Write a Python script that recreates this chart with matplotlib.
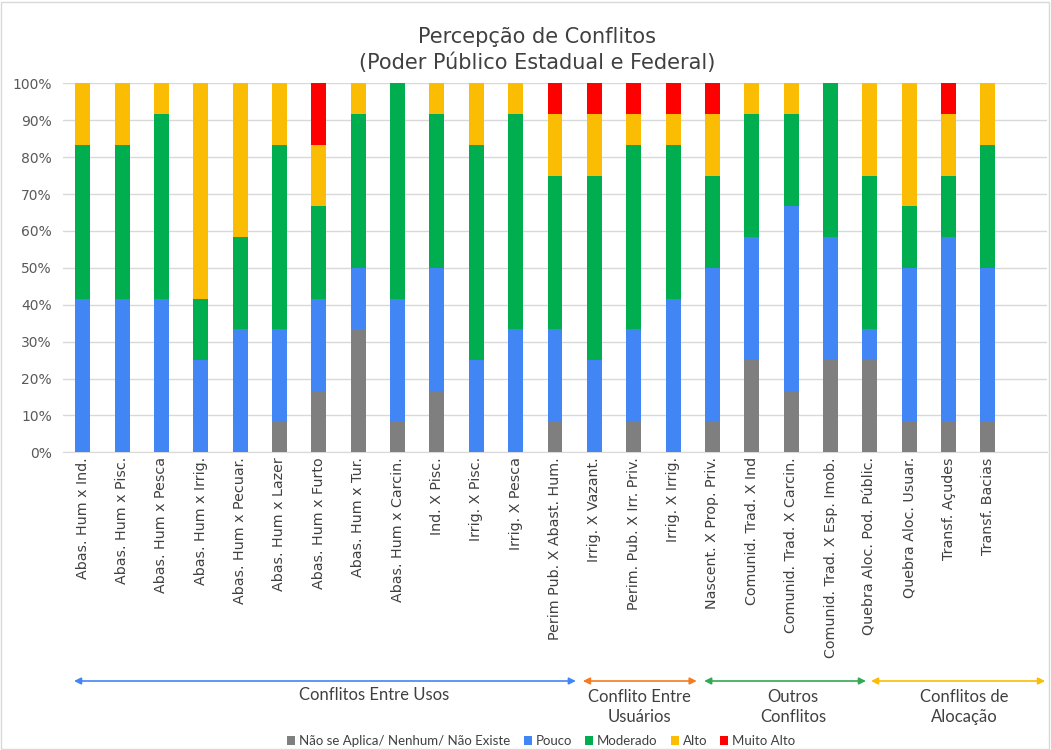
import matplotlib
matplotlib.use("Agg")
import matplotlib.pyplot as plt
import numpy as np
from matplotlib.patches import Patch, Rectangle
from matplotlib.ticker import PercentFormatter

categories = [
    "Abas. Hum x Ind.", "Abas. Hum x Pisc.", "Abas. Hum x Pesca", "Abas. Hum x Irrig.",
    "Abas. Hum x Pecuar.", "Abas. Hum x Lazer", "Abas. Hum x Furto", "Abas. Hum x Tur.",
    "Abas. Hum x Carcin.", "Ind. X Pisc.", "Irrig. X Pisc.", "Irrig. X Pesca",
    "Perim Pub. X Abast. Hum.", "Irrig. X Vazant.", "Perim. Pub. X Irr. Priv.", "Irrig. X Irrig.",
    "Nascent. X Prop. Priv.", "Comunid. Trad. X Ind", "Comunid. Trad. X Carcin.",
    "Comunid. Trad. X Esp. Imob.", "Quebra Aloc. Pod. Públic.", "Quebra Aloc. Usuar.",
    "Transf. Açudes", "Transf. Bacias",
]

# counts of answers (12 respondents per conflict)
nao_se_aplica = [0, 0, 0, 0, 0, 1, 2, 4, 1, 2, 0, 0, 1, 0, 1, 0, 1, 3, 2, 3, 3, 1, 1, 1]
pouco         = [5, 5, 5, 3, 4, 3, 3, 2, 4, 4, 3, 4, 3, 3, 3, 5, 5, 4, 6, 4, 1, 5, 6, 5]
moderado      = [5, 5, 6, 2, 3, 6, 3, 5, 7, 5, 7, 7, 5, 6, 6, 5, 3, 4, 3, 5, 5, 2, 2, 4]
alto          = [2, 2, 1, 7, 5, 2, 2, 1, 0, 1, 2, 1, 2, 2, 1, 1, 2, 1, 1, 0, 3, 4, 2, 2]
muito_alto    = [0, 0, 0, 0, 0, 0, 2, 0, 0, 0, 0, 0, 1, 1, 1, 1, 1, 0, 0, 0, 0, 0, 1, 0]

series_names = ["Não se Aplica/ Nenhum/ Não Existe", "Pouco", "Moderado", "Alto", "Muito Alto"]
series_colors = ["#7F7F7F", "#4285F4", "#00AE4F", "#FBBC04", "#FF0000"]

groups = ["Conflitos Entre Usos", "Conflito Entre\nUsuários", "Outros\nConflitos", "Conflitos de\nAlocação"]
group_spans = [(-0.22, 12.53), (12.71, 15.6), (15.79, 19.9), (20.03, 24.45)]
group_colors = ["#4285F4", "#F47B20", "#34A853", "#FBBC04"]

data = np.array([nao_se_aplica, pouco, moderado, alto, muito_alto], dtype=float)
pct = data / data.sum(axis=0) * 100

W, H = 1051, 750
fig = plt.figure(figsize=(W / 100, H / 100), dpi=100)
ax = fig.add_axes([63 / W, (H - 452.3) / H, (1047 - 63) / W, (452.3 - 83.3) / H])

x = np.arange(len(categories))
bottom = np.zeros(len(categories))
for vals, color in zip(pct, series_colors):
    ax.bar(x, vals, width=0.38, bottom=bottom, color=color, zorder=3)
    bottom += vals

ax.set_xlim(-0.5, len(categories) + 0.5)
ax.set_ylim(0, 100)
ax.set_yticks(np.arange(0, 101, 10))
ax.yaxis.set_major_formatter(PercentFormatter(decimals=0))
ax.grid(axis="y", color="#D9D9D9", linewidth=1, zorder=0)
for s in ["left", "right", "top"]:
    ax.spines[s].set_visible(False)
ax.spines["bottom"].set_color("#D9D9D9")
ax.tick_params(axis="both", length=0, colors="#595959", labelsize=10.3)
ax.tick_params(axis="y", pad=8, labelsize=10)
ax.set_xticks(x)
ax.set_xticklabels(categories, rotation=90, color="#404040")

fig.text(0.511, 1 - 37 / H, "Percepção de Conflitos", ha="center", va="center",
         fontsize=15, color="#404040")
fig.text(0.511, 1 - 63 / H, "(Poder Público Estadual e Federal)", ha="center", va="center",
         fontsize=15, color="#404040")

# group brackets with arrows
arrow_y = H - 681
for name, (x0, x1), col in zip(groups, group_spans, group_colors):
    ax.annotate("", xy=(x1, arrow_y), xytext=(x0, arrow_y),
                xycoords=("data", "figure pixels"), textcoords=("data", "figure pixels"),
                arrowprops=dict(arrowstyle="<|-|>", color=col, lw=1.2,
                                mutation_scale=10, shrinkA=0, shrinkB=0),
                annotation_clip=False)
label_pos = [(7.4, 695), (14.15, 707), (18.05, 707), (22.4, 707)]
for name, (lx, ly) in zip(groups, label_pos):
    ax.annotate(name, xy=(lx, H - ly), xycoords=("data", "figure pixels"),
                ha="center", va="center", fontsize=12, color="#404040",
                family=["Lato", "DejaVu Sans"], linespacing=1.3, annotation_clip=False)

handles = [Patch(facecolor=c, edgecolor="none") for c in series_colors]
fig.legend(handles, series_names, loc="center", bbox_to_anchor=(0.515, 9 / H),
           ncol=5, frameon=False, handlelength=0.6, handleheight=0.6, handletextpad=0.3,
           columnspacing=1.0, prop={"family": ["Lato", "DejaVu Sans"], "size": 9.5},
           labelcolor="#404040")

fig.patches.append(Rectangle((1 / W, 1 / H), 1 - 3 / W, 1 - 3 / H, transform=fig.transFigure,
                             fill=False, edgecolor="#D9D9D9", linewidth=1))

fig.savefig("out.png", dpi=100)
